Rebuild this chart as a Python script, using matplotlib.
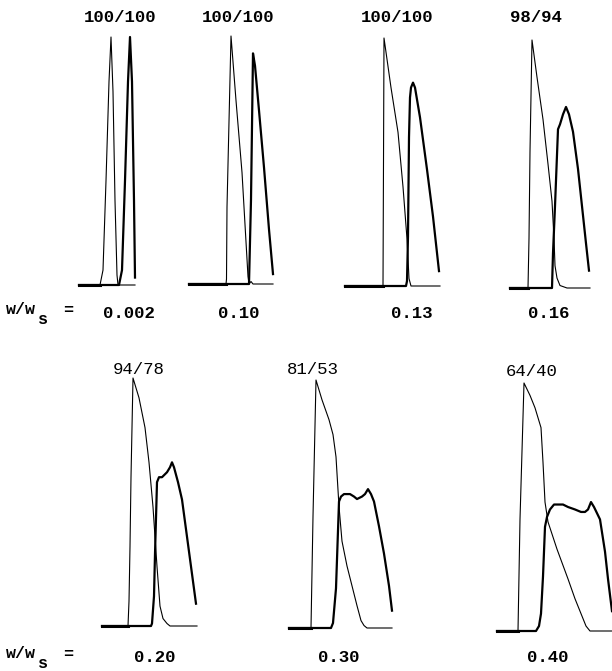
import matplotlib
matplotlib.use("Agg")
import matplotlib.pyplot as plt

# ---------------- data ----------------
# purity labels (component 1 / component 2) for each run
ratio_labels = ["100/100", "100/100", "100/100", "98/94", "94/78", "81/53", "64/40"]
# relative sample load w/w_s for each run
load_labels = ["0.002", "0.10", "0.13", "0.16", "0.20", "0.30", "0.40"]

# elution profiles: t = elution time (arb. units from panel start), y = detector signal (% of max)
# run 1 (w/ws = 0.002)
r1_a_t = [0, 21, 24, 27, 30, 32, 34, 36, 38, 39, 56]
r1_a_y = [0, 0, 6, 42, 82, 100, 78, 34, 4, 0, 0]
r1_b_t = [0, 40, 43, 46, 49, 51, 53, 55, 56]
r1_b_y = [0, 0, 6, 42, 82, 100, 82, 34, 3]
# run 2 (0.10)
r2_a_t = [0, 37, 37.5, 38, 42, 47, 53, 59, 60, 62, 64, 84]
r2_a_y = [0, 0, 2, 31, 100, 74, 45, 3, 0, 1, 0, 0]
r2_b_t = [0, 60, 62, 64, 66, 70, 75, 80, 84]
r2_b_y = [0, 0, 34, 93, 88, 70, 47, 22, 4]
# run 3 (0.13)
r3_a_t = [0, 38, 38.5, 39, 46, 53, 58, 62, 64, 66, 95]
r3_a_y = [0, 0, 50, 100, 80, 62, 40, 19, 3, 0, 0]
r3_b_t = [0, 61, 62, 63, 64, 65, 66, 68, 70, 75, 82, 88, 94]
r3_b_y = [0, 0, 2, 20, 60, 76, 80, 82, 80, 68, 47, 28, 6]
# run 4 (0.16)
r4_a_t = [0, 18, 19, 20, 22, 27, 33, 38, 42, 44, 45, 47, 50, 57, 80]
r4_a_y = [0, 0, 20, 55, 100, 85, 68, 50, 35, 20, 9, 4, 1, 0, 0]
r4_b_t = [0, 42, 43, 45, 48, 50, 53, 56, 59, 63, 68, 72, 76, 79]
r4_b_y = [0, 0, 14, 33, 64, 66, 70, 73, 70, 63, 48, 33, 18, 7]
# run 5 (0.20)
r5_a_t = [0, 26, 27, 28, 29, 31, 37, 43, 47, 51, 55, 58, 61, 65, 68, 95]
r5_a_y = [0, 0, 10, 32, 60, 100, 92, 80, 66, 48, 24, 8, 3, 1, 0, 0]
r5_b_t = [0, 49, 50, 52, 53, 55, 57, 60, 65, 68, 70, 72, 76, 80, 88, 94]
r5_b_y = [0, 0, 1, 12, 29, 58, 60, 60, 62, 64, 66, 64, 58, 51, 27, 9]
# run 6 (0.30)
r6_a_t = [0, 22, 24, 27, 33, 40, 44, 47, 50, 53, 58, 63, 68, 72, 75, 78, 103]
r6_a_y = [0, 0, 45, 100, 92, 84, 78, 69, 49, 35, 25, 17, 9, 3, 1, 0, 0]
r6_b_t = [0, 42, 44, 47, 50, 52, 55, 61, 65, 68, 73, 76, 79, 82, 85, 90, 95, 100, 103]
r6_b_y = [0, 0, 2, 16, 51, 53, 54, 54, 53, 52, 53, 54, 56, 54, 51, 41, 30, 17, 7]
# run 7 (0.40)
r7_a_t = [0, 21, 23, 27, 33, 38, 44, 46, 48, 51, 60, 71, 78, 84, 89, 93, 115]
r7_a_y = [0, 0, 45, 100, 95, 90, 82, 68, 52, 44, 33, 21, 13, 7, 2, 0, 0]
r7_b_t = [0, 37, 39, 42, 44, 46, 48, 50, 53, 57, 61, 66, 71, 78, 84, 88, 91, 94, 97, 103, 108, 111, 115]
r7_b_y = [0, 0, 0, 2, 7, 22, 42, 46, 49, 51, 51, 51, 50, 49, 48, 48, 49, 52, 50, 45, 32, 21, 8]

runs = [
    (r1_a_t, r1_a_y, r1_b_t, r1_b_y),
    (r2_a_t, r2_a_y, r2_b_t, r2_b_y),
    (r3_a_t, r3_a_y, r3_b_t, r3_b_y),
    (r4_a_t, r4_a_y, r4_b_t, r4_b_y),
    (r5_a_t, r5_a_y, r5_b_t, r5_b_y),
    (r6_a_t, r6_a_y, r6_b_t, r6_b_y),
    (r7_a_t, r7_a_y, r7_b_t, r7_b_y),
]

# ---------------- layout (pixels in a 612 x 671 canvas) ----------------
W_PX, H_PX = 612, 671
# panel left edge, baseline (from top), width in px; 100 % signal = 248 px
panel_px = [(79, 285, 56), (189, 284, 84), (345, 286, 95), (510, 288, 80),
            (102, 626, 95), (289, 628, 103), (497, 631, 115)]
PEAK_PX = 248
ratio_pos = [(120, 17), (238, 17), (397, 17), (536, 18),
             (139, 370), (313, 370), (532, 372)]
load_pos = [(129, 313), (239, 313), (412, 313), (549, 313),
            (155, 657), (339, 657), (548, 657)]
# "w/w_s =" label rows: (y of main text, y of subscript)
wws_rows = [(310, 319), (654, 664)]

fig = plt.figure(figsize=(W_PX / 100, H_PX / 100), dpi=100)
fig.patch.set_facecolor("white")

MONO = ["Liberation Mono", "DejaVu Sans Mono"]


def fx(x):
    return x / W_PX


def fy(y):
    return 1 - y / H_PX


for i, ((at, ay, bt, by), (x0, base, w)) in enumerate(zip(runs, panel_px)):
    ax = fig.add_axes([x0 / W_PX, (H_PX - base) / H_PX, w / W_PX, PEAK_PX / H_PX])
    ax.set_xlim(0, w)
    ax.set_ylim(0, 100)
    ax.axis("off")
    ax.plot(bt, by, color="black", lw=1.6, clip_on=False, solid_joinstyle="round")
    ax.plot(at, ay, color="black", lw=0.8, clip_on=False, solid_joinstyle="round")
    # thick baseline ahead of the peaks
    ax.plot([0, at[1]], [0, 0], color="black", lw=2.2, clip_on=False)

for i, (lab, (x, y)) in enumerate(zip(ratio_labels, ratio_pos)):
    fig.text(fx(x), fy(y), lab, ha="center", va="center",
             family=MONO, fontsize=12.5, fontweight="bold" if i < 4 else "normal")

for lab, (x, y) in zip(load_labels, load_pos):
    fig.text(fx(x), fy(y), lab, ha="center", va="center",
             family=MONO, fontsize=12.5, fontweight="bold")

for y_main, y_sub in wws_rows:
    fig.text(fx(6), fy(y_main), "w/w", ha="left", va="center",
             family=MONO, fontsize=12, fontweight="bold")
    fig.text(fx(38), fy(y_sub), "s", ha="left", va="center",
             family=MONO, fontsize=12, fontweight="bold")
    fig.text(fx(63), fy(y_main), "=", ha="left", va="center",
             family=MONO, fontsize=12, fontweight="bold")

fig.savefig("out.png", dpi=100, facecolor="white")
